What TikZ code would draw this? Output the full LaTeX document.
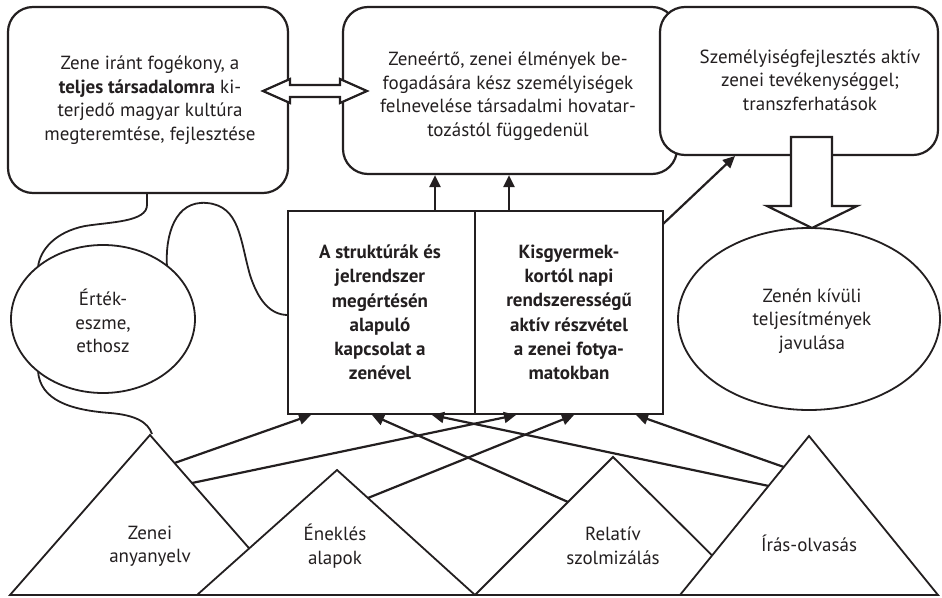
\documentclass[tikz,border=0pt]{standalone}
\usepackage{fontspec}
\setmainfont{PT Sans}
\usetikzlibrary{arrows.meta,shapes.geometric,calc}
\definecolor{ink}{HTML}{231F20}
\begin{document}
\begin{tikzpicture}[x=1pt,y=-1pt,
  rbox/.style={draw=ink, line width=2.2pt, fill=white, rounded corners=25pt, inner sep=0pt},
  sqbox/.style={draw=ink, line width=2pt, fill=white, inner sep=0pt},
  ell/.style={ellipse, draw=ink, line width=1.8pt, fill=white, inner sep=0pt},
  txt/.style={text=ink, align=center, font=\fontsize{19}{23.5}\selectfont, inner sep=0pt},
  btxt/.style={txt, font=\fontsize{19}{24.3}\selectfont\bfseries},
  con/.style={draw=ink, line width=2.2pt, -{Triangle[length=12pt,width=11pt]}},
  wire/.style={draw=ink, line width=1.8pt},
  tri/.style={draw=ink, line width=1.8pt, fill=white, line join=miter},
  fat/.style={draw=ink, line width=2.2pt, fill=white, line join=miter}]
\useasboundingbox (0,0) rectangle (942,597);

% curves behind ellipse
\draw[wire] (147,193) -- (147,205) .. controls (147,222) and (110,222) .. (85,226) .. controls (55,232) and (40,250) .. (38,267);
\draw[wire] (167,267) .. controls (165,235) and (175,200) .. (207,203) .. controls (240,206) and (240,240) .. (250,275) .. controls (258,300) and (270,315) .. (288,315);
\draw[wire] (38,371) .. controls (40,400) and (70,410) .. (110,413) .. controls (135,415) and (148,422) .. (152,434);

% top boxes
\node[rbox, minimum width=280pt, minimum height=186pt] (A) at (148,100) {};
\node[rbox, minimum width=334pt, minimum height=167pt] (B) at (510,90.5) {};
\node[rbox, minimum width=278pt, minimum height=148pt] (C) at (799,81) {};

\node[txt] (tA) at (150,100) {Zene iránt fogékony, a\\{\bfseries teljes társadalomra} ki-\\terjedő magyar kultúra\\megteremtése, fejlesztése};
\node[txt] (tB) at (508,96) {Zeneértő, zenei élmények be-\\fogadására kész személyiségek\\felnevelése társadalmi hovatar-\\tozástól függedenül};
\node[txt] (tC) at (810,80) {Személyiségfejlesztés aktív\\zenei tevékenységgel;\\transzferhatások};

% double arrow
\draw[fat] (263,91) -- (290,79) -- (290,85) -- (340,85) -- (340,79) -- (367,91) -- (340,103) -- (340,97) -- (290,97) -- (290,103) -- cycle;

% centre boxes
\node[sqbox, minimum width=187pt, minimum height=203pt] (D) at (381.5,312.5) {};
\node[sqbox, minimum width=188pt, minimum height=203pt] (E) at (569,312.5) {};
\node[btxt] (tD) at (380,312.5) {A struktúrák és\\jelrendszer\\megértésén\\alapuló\\kapcsolat a\\zenével};
\node[btxt] (tE) at (569,312.5) {Kisgyermek-\\kortól napi\\rendszerességű\\aktív részvétel\\a zenei fotya-\\matokban};

% ellipses
\node[ell, minimum width=184pt, minimum height=148pt] (G) at (103,319) {};
\node[txt] (tG) at (103,321) {Érték-\\eszme,\\ethosz};
\node[ell, minimum width=262pt, minimum height=182pt] (F) at (809,319) {};
\node[txt] (tF) at (812,321) {Zenén kívüli\\teljesítmények\\javulása};

% big down arrow
\draw[fat] (791,137) -- (832,137) -- (832,206) -- (857,206) -- (812,228) -- (767,206) -- (791,206) -- cycle;

% arrows up
\draw[con] ([xshift=148pt]D.north west) -- ([xshift=148pt]D.north west |- B.south);
\draw[con] ([xshift=35pt]E.north west) -- ([xshift=35pt]E.north west |- B.south);
\coordinate (Eo) at (663,224);
\draw[con] (Eo) -- (735,156);

% triangles
\coordinate (t1a) at (150,435); \coordinate (t1l) at (10,595); \coordinate (t1r) at (290,595);
\coordinate (t2a) at (337,470); \coordinate (t2l) at (197,595); \coordinate (t2r) at (475,595);
\coordinate (t3a) at (613,457); \coordinate (t3l) at (475,595); \coordinate (t3r) at (752,595);
\coordinate (t4a) at (809,436); \coordinate (t4l) at (680,595); \coordinate (t4r) at (938,595);
\draw[tri] (t1l) -- (t1a) -- (t1r) -- cycle;
\draw[tri] (t2l) -- (t2a) -- (t2r) -- cycle;
\draw[tri] (t3l) -- (t3a) -- (t3r) -- cycle;
\draw[tri] (t4l) -- (t4a) -- (t4r) -- cycle;
\node[txt] (T1) at (150,546) {Zenei\\anyanyelv};
\node[txt] (T2) at (335,546) {Éneklés\\alapok};
\node[txt] (T3) at (613,546) {Relatív\\szolmizálás};
\node[txt] (T4) at (809,543) {Írás-olvasás};

% arrows from triangles
\coordinate (s1) at ($(t1a)!0.175!(t1r)$);
\coordinate (s2) at ($(t1a)!0.30!(t1r)$);
\coordinate (s3) at ($(t2a)!0.224!(t2r)$);
\coordinate (s4) at ($(t3a)!0.326!(t3l)$);
\coordinate (s5) at ($(t4a)!0.314!(t4l)$);
\coordinate (s6) at ($(t4a)!0.195!(t4l)$);
\draw[con] (s1) -- ([xshift=24pt]D.south west);
\draw[con] (s2) -- ([xshift=42pt]E.south west);
\draw[con] (s3) -- ([xshift=100pt]E.south west);
\draw[con] (s4) -- ([xshift=85pt]D.south west);
\draw[con] (s5) -- ([xshift=145pt]D.south west);
\draw[con] (s6) -- ([xshift=162pt]E.south west);
\end{tikzpicture}
\end{document}
